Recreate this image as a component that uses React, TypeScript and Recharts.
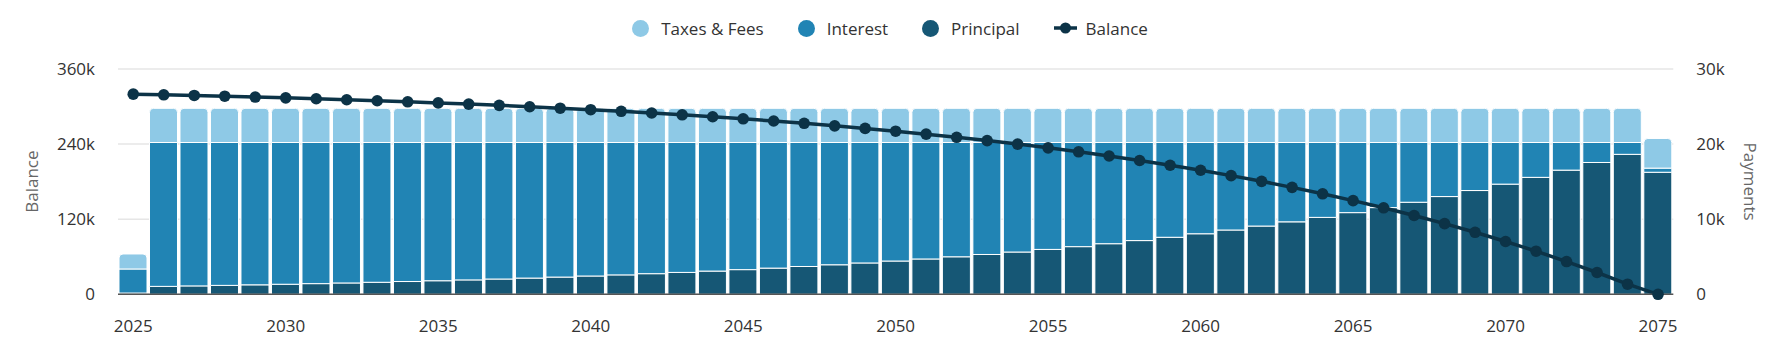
import { Bar, CartesianGrid, ComposedChart, Legend, Line, XAxis, YAxis } from "recharts";

// yearly mortgage schedule
const years = [
  "2025", "2026", "2027", "2028", "2029", "2030", "2031", "2032", "2033", "2034",
  "2035", "2036", "2037", "2038", "2039", "2040", "2041", "2042", "2043", "2044",
  "2045", "2046", "2047", "2048", "2049", "2050", "2051", "2052", "2053", "2054",
  "2055", "2056", "2057", "2058", "2059", "2060", "2061", "2062", "2063", "2064",
  "2065", "2066", "2067", "2068", "2069", "2070", "2071", "2072", "2073", "2074",
  "2075",
];

const principal = [
  170, 1054, 1119, 1188, 1261, 1339, 1421, 1509, 1602, 1701,
  1806, 1917, 2035, 2161, 2294, 2435, 2586, 2745, 2915, 3094,
  3285, 3488, 3703, 3931, 4174, 4431, 4704, 4995, 5303, 5630,
  5977, 6346, 6737, 7153, 7594, 8062, 8560, 9087, 9648, 10243,
  10875, 11545, 12258, 13014, 13816, 14669, 15573, 16534, 17554, 18636,
  16250,
];

const interest = [
  3200, 19161, 19096, 19027, 18954, 18876, 18794, 18706, 18613, 18514,
  18409, 18298, 18180, 18054, 17921, 17780, 17629, 17470, 17300, 17121,
  16930, 16727, 16512, 16284, 16041, 15784, 15511, 15220, 14912, 14585,
  14238, 13869, 13478, 13062, 12621, 12153, 11655, 11128, 10567, 9972,
  9340, 8670, 7957, 7201, 6399, 5546, 4642, 3681, 2661, 1579,
  550,
];

const taxesFees = [
  2000, 4550, 4550, 4550, 4550, 4550, 4550, 4550, 4550, 4550,
  4550, 4550, 4550, 4550, 4550, 4550, 4550, 4550, 4550, 4550,
  4550, 4550, 4550, 4550, 4550, 4550, 4550, 4550, 4550, 4550,
  4550, 4550, 4550, 4550, 4550, 4550, 4550, 4550, 4550, 4550,
  4550, 4550, 4550, 4550, 4550, 4550, 4550, 4550, 4550, 4550,
  3950,
];

const balance = [
  319800, 318800, 317700, 316500, 315200, 313900, 312500, 310900, 309300, 307600,
  305800, 303900, 301900, 299700, 297400, 295000, 292400, 289700, 286800, 283700,
  280400, 276900, 273200, 269200, 265100, 260600, 255900, 250900, 245600, 240000,
  234000, 227700, 221000, 213800, 206200, 198200, 189600, 180500, 170900, 160600,
  149700, 138200, 125900, 112900, 99100, 84400, 68900, 52300, 34800, 16100,
  0,
];

const balanceTicks = [0, 120000, 240000, 360000];
const paymentTicks = [0, 10000, 20000, 30000];

const COLORS = {
  taxes: "#8ec9e6",
  interest: "#2184b4",
  principal: "#165775",
  balance: "#0c3347",
};

const FONT = "'Open Sans', 'Noto Sans', sans-serif";

const data = years.map((year, i) => ({
  year,
  principal: principal[i],
  interest: interest[i],
  taxes: taxesFees[i],
  balance: balance[i],
}));

const fmtK = (v: number) => (v === 0 ? "0" : `${v / 1000}k`);

const legendItems = [
  { label: "Taxes & Fees", color: COLORS.taxes, kind: "dot" },
  { label: "Interest", color: COLORS.interest, kind: "dot" },
  { label: "Principal", color: COLORS.principal, kind: "dot" },
  { label: "Balance", color: COLORS.balance, kind: "line" },
];

function LegendRow() {
  return (
    <div style={{ display: "flex", justifyContent: "center", alignItems: "center", height: 56, gap: 34 }}>
      {legendItems.map((item) => (
        <div key={item.label} style={{ display: "flex", alignItems: "center" }}>
          {item.kind === "dot" ? (
            <svg width={17} height={17} style={{ marginRight: 12 }}>
              <circle cx={8.5} cy={8.5} r={8.5} fill={item.color} />
            </svg>
          ) : (
            <svg width={23} height={12} style={{ marginRight: 9 }}>
              <line x1={0} y1={6} x2={23} y2={6} stroke={item.color} strokeWidth={3.5} />
              <circle cx={11.5} cy={6} r={5.5} fill={item.color} />
            </svg>
          )}
          <span style={{ fontSize: 17, color: "#333", fontFamily: FONT }}>{item.label}</span>
        </div>
      ))}
    </div>
  );
}

export default function App() {
  const tick = { fontSize: 17, fill: "#333", fontFamily: FONT };
  const axisTitle = { fontSize: 17, fill: "#666", fontFamily: FONT, textAnchor: "middle" as const };
  return (
    <div style={{ position: "absolute", left: 0, top: 0, width: 1780, height: 362, background: "#fff" }}>
      <ComposedChart
        width={1780}
        height={362}
        data={data}
        margin={{ top: 69, right: 0, left: 0, bottom: 0 }}
        barCategoryGap={1}
        style={{ fontFamily: FONT }}
      >
        <CartesianGrid yAxisId="left" vertical={false} stroke="#e6e6e6" strokeWidth={1.5} />
        <XAxis
          dataKey="year"
          interval={4}
          tickLine={false}
          tickSize={0}
          tickMargin={26}
          axisLine={{ stroke: "#555", strokeWidth: 1.5 }}
          tick={tick}
          height={67.7}
        />
        <YAxis
          yAxisId="left"
          orientation="left"
          width={118}
          domain={[0, 360000]}
          ticks={balanceTicks}
          tickFormatter={fmtK}
          axisLine={false}
          tickLine={false}
          tickSize={0}
          tickMargin={23}
          tick={tick}
          label={{ value: "Balance", angle: -90, position: "insideLeft", offset: 32, style: axisTitle }}
        />
        <YAxis
          yAxisId="right"
          orientation="right"
          width={106.7}
          domain={[0, 30000]}
          ticks={paymentTicks}
          tickFormatter={fmtK}
          axisLine={false}
          tickLine={false}
          tickSize={0}
          tickMargin={23}
          tick={{ ...tick, textAnchor: "start" }}
          label={{ value: "Payments", angle: 90, position: "insideRight", offset: 30, style: axisTitle }}
        />
        <Legend
          verticalAlign="middle"
          content={() => <LegendRow />}
          wrapperStyle={{ top: 0, left: 0, width: 1780, height: 56 }}
        />
        <Bar yAxisId="right" dataKey="principal" name="Principal" stackId="pay" fill={COLORS.principal} stroke="#fff" strokeWidth={1} isAnimationActive={false} />
        <Bar yAxisId="right" dataKey="interest" name="Interest" stackId="pay" fill={COLORS.interest} stroke="#fff" strokeWidth={1} isAnimationActive={false} />
        <Bar yAxisId="right" dataKey="taxes" name="Taxes & Fees" stackId="pay" fill={COLORS.taxes} stroke="#fff" strokeWidth={1} radius={[4, 4, 0, 0]} isAnimationActive={false} />
        <Line
          yAxisId="left"
          dataKey="balance"
          name="Balance"
          type="linear"
          stroke={COLORS.balance}
          strokeWidth={3.5}
          dot={{ r: 5.8, fill: COLORS.balance, stroke: COLORS.balance, strokeWidth: 0 }}
          activeDot={false}
          isAnimationActive={false}
        />
      </ComposedChart>
    </div>
  );
}
